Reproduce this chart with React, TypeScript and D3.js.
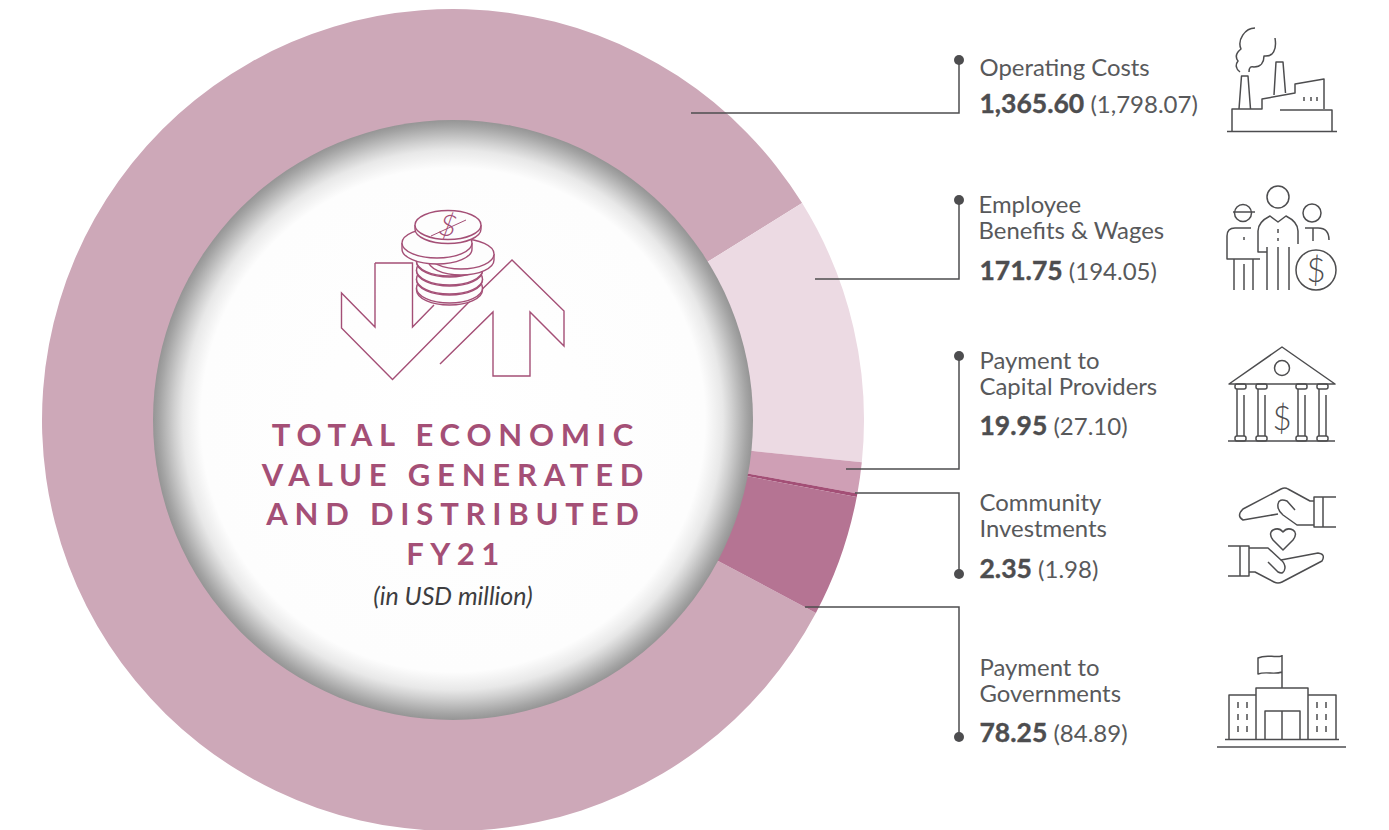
import React from "react";
import * as d3 from "d3";

const categories = ["Operating Costs", "Employee Benefits & Wages", "Payment to Capital Providers", "Community Investments", "Payment to Governments"];
const fy21Values = [1365.6, 171.75, 19.95, 2.35, 78.25];
const sliceColors = ["#cda8b8", "#ecdae3", "#cf9fb5", "#a34f76", "#b57493"];
const valueLabels = ["1,365.60", "171.75", "19.95", "2.35", "78.25"];
const priorLabels = ["(1,798.07)", "(194.05)", "(27.10)", "(1.98)", "(84.89)"];
const nameLines = [["Operating Costs"], ["Employee", "Benefits & Wages"], ["Payment to", "Capital Providers"], ["Community", "Investments"], ["Payment to", "Governments"]];
const titleLines = ["TOTAL ECONOMIC", "VALUE GENERATED", "AND DISTRIBUTED", "FY21"];

const cx = 453, cy = 420, R = 411, r = 300;
const FONT = "Lato, 'Open Sans', sans-serif";
const G = "#4d4d4f";
const T = "#58595b";
const M = "#a44f76";

const pie = d3.pie<number>().sort(null).startAngle((118 * Math.PI) / 180).endAngle(((118 + 360) * Math.PI) / 180);
const arc = d3.arc<d3.PieArcDatum<number>>().innerRadius(r - 5).outerRadius(R);

const labelX = 979.5;
const labelPos = [
  { nameY: 76, valY: 113, x: 979.5 },
  { nameY: 213, valY: 280, x: 978.5 },
  { nameY: 369, valY: 435, x: 979.5 },
  { nameY: 511, valY: 578, x: 979.5 },
  { nameY: 676, valY: 742, x: 979.5 },
];
const connectors = [
  "M691,113 H959 V60",
  "M815,279 H959 V200",
  "M846,469 H959 V356",
  "M855,493 H959 V574",
  "M805,607 H959 V737",
];
const dots = [[959, 60], [959, 200], [959, 356], [959, 574], [959, 737]];

const Stroke = ({ d, w = 1.5, c = G }: { d: string; w?: number; c?: string }) => (
  <path d={d} fill="none" stroke={c} strokeWidth={w} strokeLinejoin="round" strokeLinecap="butt" />
);

const Factory = () => (
  <g>
    <Stroke d="M1227,131.5 H1337" />
    <Stroke d="M1232,131 V109 H1262 V99 L1295,93 V84 L1324,79 V109 M1280,110 H1332 V131" />
    <Stroke d="M1239,109 L1241.5,76 H1248 L1250.5,109 M1274,95 L1276,62 H1283 L1285.5,93" />
    <Stroke d="M1304,97 V101 M1311,97 V101 M1317,97 V101" />
    <Stroke d="M1240,72 C1236,69 1235,65 1238,61 C1235,57 1236,53 1241,49 C1237,40 1245,28 1255,28 M1249,72 C1249,67 1251,66 1254,67 C1261,67 1264,62 1264,56 C1273,57 1277,50 1275,38" />
  </g>
);

const People = () => (
  <g>
    <circle cx={1278} cy={197} r={11} fill="none" stroke={G} strokeWidth={1.5} />
    <circle cx={1243} cy={213} r={8.5} fill="none" stroke={G} strokeWidth={1.5} />
    <Stroke d="M1233,212 H1255" />
    <circle cx={1312} cy={213} r={9} fill="none" stroke={G} strokeWidth={1.5} />
    <circle cx={1316} cy={270} r={20} fill="none" stroke={G} strokeWidth={1.5} />
    <text x={1316} y={282} textAnchor="middle" fontSize={33} fontFamily={FONT} fontWeight={300} fill={G}>$</text>
    <Stroke d="M1251,228 H1235 Q1227,228 1227,236 V259 H1260 M1234,259 V290 M1244,264 V290 M1253,259 V290" />
    <Stroke d="M1267,252 H1258 V231 Q1258,222 1270,216 L1278,222 L1286,216 Q1298,222 1298,231 V244 M1267,247 V290 M1278,247 V290 M1289,247 V290" />
    <Stroke d="M1278,229 V233 M1278,238 V241 M1244,237 V240" />
    <Stroke d="M1305,228 H1318 Q1329,228 1329,240 M1313,228 V241" />
  </g>
);

const Bank = () => (
  <g>
    <Stroke d="M1229,384 L1282,347 L1335,384 Z" />
    <circle cx={1282} cy={368} r={7.5} fill="none" stroke={G} strokeWidth={1.5} />
    <Stroke d="M1228,441 H1335" />
    {[1241, 1262, 1302, 1323].map((x) => (
      <g key={x}>
        <rect x={x - 6} y={384} width={11} height={5} rx={2} fill="none" stroke={G} strokeWidth={1.5} />
        <rect x={x - 6} y={436} width={11} height={5} rx={2} fill="none" stroke={G} strokeWidth={1.5} />
        <Stroke d={`M${x - 4},389 V436 M${x + 3},395 V436`} />
      </g>
    ))}
    <text x={1282} y={430} textAnchor="middle" fontSize={33} fontFamily={FONT} fontWeight={300} fill={G}>$</text>
  </g>
);

const Hands = () => (
  <g>
    <Stroke d="M1336,497 H1314 V527 H1336 M1323,497 V527" />
    <Stroke d="M1314,501 H1310 L1288,489 Q1285,487 1281,489 L1243,509 Q1236,516 1243,520 L1278,514" />
    <Stroke d="M1295,510 L1287,501 Q1279,498 1278,504 Q1277,510 1283,515 L1297,525 H1314" />
    <Stroke d="M1228,546 H1249 V576 H1228 M1240,546 V576" />
    <Stroke d="M1249,548 H1268 L1281,560 L1318,553 Q1326,554 1322,561 L1282,582 Q1278,584 1274,582 L1255,572 H1249" />
    <Stroke d="M1268,562 L1278,572 Q1284,575 1285,568 Q1285,563 1281,560" />
    <Stroke d="M1283,550 L1273,540 Q1268,533 1273,530 Q1279,527 1283,532 Q1287,527 1293,530 Q1298,533 1293,540 Z" />
  </g>
);

const Gov = () => (
  <g>
    <Stroke d="M1217,747 H1346" />
    <Stroke d="M1225,739.5 H1339" />
    <Stroke d="M1229,739 V695 H1256 M1336,739 V695 H1308" />
    <Stroke d="M1256,739 V688 H1308 V739" />
    <Stroke d="M1265,739 V711 H1300 V739 M1282,711 V739" />
    <Stroke d="M1282,688 V655 M1282,656 C1274,658 1266,654 1258,658 V674 C1266,671 1274,675 1282,672" />
    {[1238, 1247, 1317, 1326].map((x) => (
      <Stroke key={x} d={`M${x},702 V708 M${x},714 V720 M${x},726 V732`} />
    ))}
  </g>
);

const Hero = () => {
  const coin = (x: number, y: number, rx: number, ry: number, h: number) => (
    <g>
      <path d={`M${x - rx},${y} V${y + h} A${rx},${ry} 0 0 0 ${x + rx},${y + h} V${y}`} fill="#fdfdfd" stroke={M} strokeWidth={1.4} />
      <ellipse cx={x} cy={y} rx={rx} ry={ry} fill="#fdfdfd" stroke={M} strokeWidth={1.4} />
    </g>
  );
  return (
    <g>
      <path d="M375,263 H412.5 V327 L434,305 M375,263 V327 L341.5,293 V328 L392.5,379.5 L468,303 M468,303 L512,260 L564,311 V346 L530,312 V376 H493 V312 L440,364" fill="none" stroke={M} strokeWidth={1.4} strokeLinejoin="miter" />
      {coin(449.5, 288, 33, 15, 2)}
      {coin(449.5, 279, 33, 15, 1)}
      {coin(449.5, 270, 33, 15, 1)}
      {coin(449.5, 261, 33, 15, 1)}
      {coin(461, 254, 33, 15, 6)}
      {coin(437, 243, 35, 15, 6)}
      {coin(448, 225, 33, 14.5, 4)}
      <text x={448} y={236} textAnchor="middle" fontSize={30} fontStyle="italic" fontFamily={FONT} fontWeight={300} fill={M} transform="rotate(10 448 225)">$</text>
      <Stroke d="M431,236 L466,220" c={M} w={1} />
    </g>
  );
};

export default function App() {
  const arcs = pie(fy21Values);
  return (
    <svg width={1389} height={830} style={{ position: "absolute", left: 0, top: 0, background: "#fff" }}>
      <defs>
        <radialGradient id="hole" cx="50%" cy="50%" r="50%">
          <stop offset="0%" stopColor="#ffffff" />
          <stop offset="84%" stopColor="#fdfdfd" />
          <stop offset="90%" stopColor="#e8e8e8" />
          <stop offset="93%" stopColor="#d0d0d0" />
          <stop offset="98%" stopColor="#a4a4a4" />
          <stop offset="100%" stopColor="#959595" />
        </radialGradient>
      </defs>
      <g transform={`translate(${cx},${cy})`}>
        {arcs.map((a, i) => (
          <path key={categories[i]} d={arc(a) || ""} fill={sliceColors[i]} />
        ))}
        <circle r={r} fill="url(#hole)" />
      </g>
      <Hero />
      {titleLines.map((t, i) => (
        <text key={t} x={453 + 3} y={[446, 486, 525, 565][i]} textAnchor="middle" fontFamily={FONT} fontWeight={700} fontSize={31} letterSpacing={i === 3 ? 6.5 : 6.8} fill={M}>
          {t}
        </text>
      ))}
      <text x={453} y={605} textAnchor="middle" fontFamily={FONT} fontStyle="italic" fontSize={25} fill="#3d3d3f">(in USD million)</text>

      {connectors.map((d) => (
        <path key={d} d={d} fill="none" stroke={G} strokeWidth={1.5} />
      ))}
      {dots.map(([x, y]) => (
        <circle key={y} cx={x} cy={y} r={5} fill={G} />
      ))}
      {categories.map((c, i) => (
        <g key={c} fontFamily={FONT} fill={T}>
          {nameLines[i].map((l, j) => (
            <text key={l} x={labelPos[i].x} y={labelPos[i].nameY + j * 26} fontSize={23.9} fontWeight={400}>{l}</text>
          ))}
          <text x={labelX} y={labelPos[i].valY} fontSize={24}>
            <tspan fontWeight={700} fontSize={26.5} fill={G} stroke={G} strokeWidth={0.4}>{valueLabels[i]}</tspan>
            <tspan> {priorLabels[i]}</tspan>
          </text>
        </g>
      ))}
      <Factory />
      <People />
      <Bank />
      <Hands />
      <Gov />
    </svg>
  );
}
